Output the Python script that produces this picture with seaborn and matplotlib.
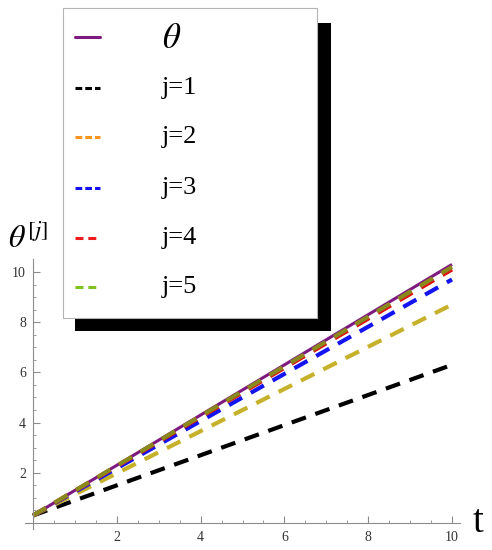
import numpy as np
import pandas as pd
import matplotlib
matplotlib.use("Agg")
import matplotlib.pyplot as plt
import seaborn as sns
from matplotlib.patches import Rectangle
from matplotlib.lines import Line2D

# ---- data ----
t = [0, 1, 2, 3, 4, 5, 6, 7, 8, 9, 10]
theta = [0.3, 1.3, 2.3, 3.3, 4.3, 5.3, 6.3, 7.3, 8.3, 9.3, 10.3]
j1 = [0.3, 0.9, 1.5, 2.1, 2.7, 3.3, 3.9, 4.5, 5.1, 5.7, 6.3]
j2 = [0.3, 1.14, 1.98, 2.82, 3.66, 4.5, 5.34, 6.18, 7.02, 7.86, 8.7]
j3 = [0.3, 1.24, 2.18, 3.12, 4.06, 5.0, 5.94, 6.88, 7.82, 8.76, 9.7]
j4 = [0.3, 1.28, 2.26, 3.24, 4.22, 5.2, 6.18, 7.16, 8.14, 9.12, 10.1]
j5 = [0.3, 1.29, 2.28, 3.27, 4.26, 5.25, 6.24, 7.23, 8.22, 9.21, 10.2]
legend_labels = [r"$\theta$", "j=1", "j=2", "j=3", "j=4", "j=5"]
x_ticks = [2, 4, 6, 8, 10]
y_ticks = [2, 4, 6, 8, 10]

sns.set_theme(style="white")
plt.rcParams["font.family"] = ["Liberation Serif", "DejaVu Serif"]
plt.rcParams["mathtext.fontset"] = "stix"

W, H = 492, 550
fig = plt.figure(figsize=(W / 100, H / 100), dpi=100)
ax = fig.add_axes([24.6 / W, 20.7 / H, 435.8 / W, 269.9 / H])

df = pd.DataFrame({"t": t, "theta": theta, "j1": j1, "j2": j2,
                   "j3": j3, "j4": j4, "j5": j5})

dash = (0, (3.6, 2.4))
sns.lineplot(data=df, x="t", y="theta", ax=ax, color="#7d1a80", lw=2.2,
             solid_capstyle="butt")
sns.lineplot(data=df, x="t", y="j1", ax=ax, color="black", lw=3.0,
             linestyle=dash)
sns.lineplot(data=df, x="t", y="j2", ax=ax, color="#c6b22a", lw=3.0,
             linestyle=dash)
sns.lineplot(data=df, x="t", y="j3", ax=ax, color="#1414f0", lw=3.0,
             linestyle=dash)
sns.lineplot(data=df, x="t", y="j4", ax=ax, color="#e01010", lw=3.0,
             linestyle=dash)
sns.lineplot(data=df, x="t", y="j5", ax=ax, color="#8a8a1c", lw=3.0,
             linestyle=dash)

ax.set_xlim(-0.2, 10.2)
ax.set_ylim(-0.25, 10.5)
ax.set_xlabel("")
ax.set_ylabel("")
for s in ["top", "right"]:
    ax.spines[s].set_visible(False)
ax.spines["left"].set_position(("data", 0))
ax.spines["bottom"].set_position(("data", 0))
for s in ["left", "bottom"]:
    ax.spines[s].set_color("#8c8c8c")
    ax.spines[s].set_linewidth(0.8)
ax.set_xticks(x_ticks)
ax.set_yticks(y_ticks)
ax.set_xticks(np.arange(0.5, 10.01, 0.5), minor=True)
ax.set_yticks(np.arange(0.5, 10.41, 0.5), minor=True)
ax.tick_params(axis="both", which="both", bottom=True, left=True,
               top=False, right=False)
ax.tick_params(axis="both", which="major", direction="in", length=5,
               width=0.8, color="#8c8c8c", labelsize=10, labelcolor="#333333")
ax.tick_params(axis="both", which="minor", direction="in", length=2.5,
               width=0.6, color="#8c8c8c")
ax.tick_params(axis="x", which="major", pad=6)
ax.tick_params(axis="y", which="major", pad=5)
ax.patch.set_alpha(0)

# axis labels
fig.text(478 / W, 1 - 522 / H, "t", fontsize=28, ha="center", va="center",
         color="black")
fig.text(8 / W, 1 - 248 / H, r"$\theta^{[j]}$", fontsize=23, ha="left",
         va="baseline", color="black")

# legend box with hard black shadow
def fx(px):
    return px / W

def fy(py):
    return 1 - py / H

fig.add_artist(Rectangle((fx(75), fy(330.5)), fx(330.7) - fx(75),
                         fy(22.7) - fy(330.5), transform=fig.transFigure,
                         facecolor="black", edgecolor="none", zorder=5))
fig.add_artist(Rectangle((fx(62.7), fy(318)), fx(317) - fx(62.7),
                         fy(8.3) - fy(318), transform=fig.transFigure,
                         facecolor="white", edgecolor="#b4b4b4", lw=0.8,
                         zorder=6))

handle_colors = ["#7d1a80", "black", "#f7941d", "#1414f0", "#ee1c1c", "#7fc31c"]
handle_styles = ["-", (0, (2.2, 1.0)), (0, (2.2, 1.0)), (0, (2.2, 1.0)),
                 (0, (2.6, 1.6)), (0, (2.6, 1.6))]
rows_y = [37, 88, 137, 188, 238, 287]
for lab, c, ls, yy in zip(legend_labels, handle_colors, handle_styles, rows_y):
    fig.add_artist(Line2D([fx(75), fx(100)], [fy(yy), fy(yy)],
                          transform=fig.transFigure, color=c, lw=2.2,
                          linestyle=ls, zorder=7))
    if lab.startswith("$"):
        fig.text(fx(162), fy(yy + 2), lab, fontsize=25, ha="left",
                 va="center", zorder=7, color="black")
    else:
        fig.text(fx(162), fy(yy), lab, fontsize=19, ha="left",
                 va="center", zorder=7, color="black")

fig.savefig("out.png", dpi=100)
